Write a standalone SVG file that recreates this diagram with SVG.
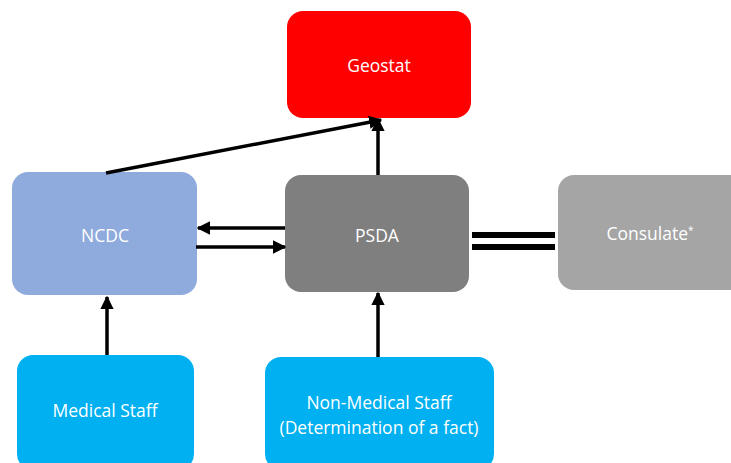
<svg xmlns="http://www.w3.org/2000/svg" width="731" height="463" viewBox="0 0 731 463">
<defs>
<style>
.lbl{font-family:"Open Sans","Liberation Sans",sans-serif;font-size:17.5px;fill:#fff;text-anchor:middle}
.conn{stroke:#000;stroke-width:3.5;fill:none}
.bar{stroke:#000;stroke-width:6;fill:none}
</style>
<marker id="ah" viewBox="0 0 10 10" refX="9" refY="5" markerWidth="3.8" markerHeight="3.8" orient="auto" markerUnits="strokeWidth">
<path d="M0,0 L10,5 L0,10 z" fill="#000"/>
</marker>
</defs>
<rect width="731" height="463" fill="#fff"/>
<g id="geostat"><rect x="287" y="11" width="184" height="107" rx="16" fill="#FF0000"/><text class="lbl" x="379" y="72">Geostat</text></g>
<g id="ncdc"><rect x="12" y="172" width="185" height="123" rx="16" fill="#8FAADC"/><text class="lbl" x="105" y="242">NCDC</text></g>
<g id="psda"><rect x="285" y="175" width="184" height="117" rx="16" fill="#7F7F7F"/><text class="lbl" x="377" y="242">PSDA</text></g>
<g id="consulate"><rect x="558" y="175" width="190" height="115" rx="16" fill="#A5A5A5"/><text class="lbl" x="650" y="240">Consulate<tspan font-size="10" dy="-6">*</tspan></text></g>
<g id="medical"><rect x="17" y="355" width="177" height="115" rx="16" fill="#00B0F0"/><text class="lbl" x="105" y="417">Medical Staff</text></g>
<g id="nonmedical"><rect x="265" y="357" width="229" height="113" rx="16" fill="#00B0F0"/><text class="lbl" x="379" y="409">Non-Medical Staff</text><text class="lbl" x="379" y="434">(Determination of a fact)</text></g>
<g id="connectors">
<line class="conn" x1="106" y1="173" x2="381" y2="120" marker-end="url(#ah)"/>
<line class="conn" x1="378" y1="175" x2="378" y2="119" marker-end="url(#ah)"/>
<line class="conn" x1="285" y1="228" x2="198" y2="228" marker-end="url(#ah)"/>
<line class="conn" x1="196" y1="247" x2="285" y2="247" marker-end="url(#ah)"/>
<line class="conn" x1="107" y1="355" x2="107" y2="297" marker-end="url(#ah)"/>
<line class="conn" x1="378" y1="357" x2="378" y2="293" marker-end="url(#ah)"/>
<line class="bar" x1="472" y1="235" x2="555" y2="235"/>
<line class="bar" x1="472" y1="247" x2="555" y2="247"/>
</g>
</svg>
